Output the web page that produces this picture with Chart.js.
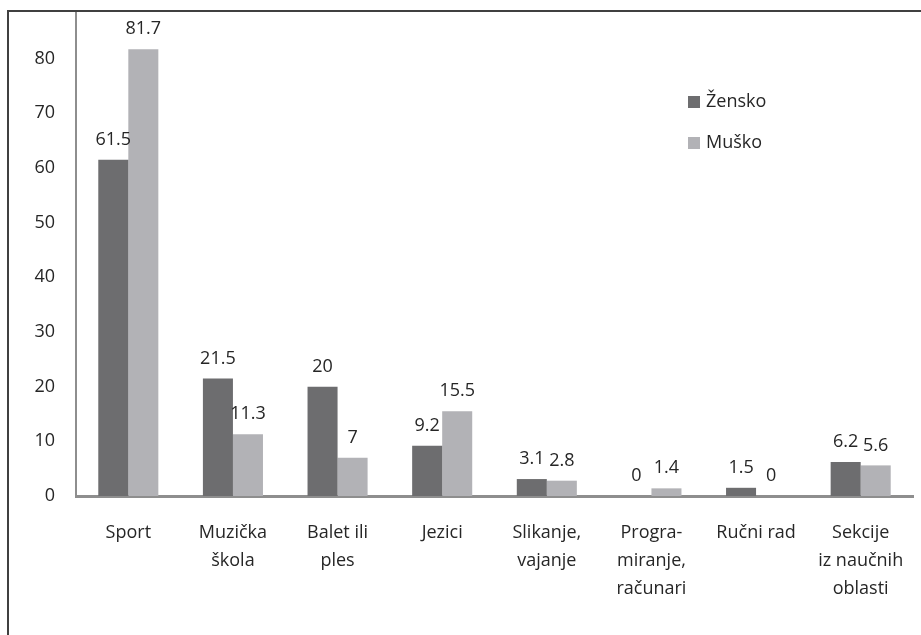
<!DOCTYPE html>
<html>
<head>
<meta charset="utf-8">
<script src="https://cdn.jsdelivr.net/npm/chart.js@4/dist/chart.umd.min.js"></script>
<style>
  html, body { margin: 0; padding: 0; background: #fff; }
  #wrap { width: 921px; height: 635px; position: relative; }
</style>
</head>
<body>
<div id="wrap"><canvas id="myBarChart"></canvas></div>
<script>
var categories = ["Sport", ["Muzička", "škola"], ["Balet ili", "ples"], "Jezici",
    ["Slikanje,", "vajanje"], ["Progra-", "miranje,", "računari"], "Ručni rad",
    ["Sekcije", "iz naučnih", "oblasti"]];
var zensko = [61.5, 21.5, 20, 9.2, 3.1, 0, 1.5, 6.2];
var musko = [81.7, 11.3, 7, 15.5, 2.8, 1.4, 0, 5.6];
var seriesNames = ["Žensko", "Muško"];
var yTicks = [0, 10, 20, 30, 40, 50, 60, 70, 80, 90];

var FONT = "'Open Sans', sans-serif";
var TEXT = '#262626';

// value labels above the bars
var valueLabels = {
    id: 'valueLabels',
    afterDatasetsDraw: function(chart) {
        var ctx = chart.ctx;
        ctx.save();
        ctx.font = '18px ' + FONT;
        ctx.fillStyle = TEXT;
        ctx.textAlign = 'center';
        ctx.textBaseline = 'middle';
        chart.data.datasets.forEach(function(ds, i) {
            chart.getDatasetMeta(i).data.forEach(function(bar, j) {
                ctx.fillText(String(ds.data[j]), bar.x, bar.y - 20);
            });
        });
        ctx.restore();
    }
};

// legend inside the plot + outer frame
var legendAndFrame = {
    id: 'legendAndFrame',
    afterDraw: function(chart) {
        var ctx = chart.ctx;
        ctx.save();
        ctx.font = '18px ' + FONT;
        ctx.textBaseline = 'middle';
        ctx.textAlign = 'left';
        chart.data.datasets.forEach(function(ds, i) {
            var y = 102 + i * 41;
            ctx.fillStyle = ds.backgroundColor;
            ctx.fillRect(688, y - 6, 12, 12);
            ctx.fillStyle = TEXT;
            ctx.fillText(ds.label, 706, y);
        });
        // crop like the source image
        ctx.fillStyle = '#fff';
        ctx.fillRect(0, 0, chart.width, 10);
        ctx.fillRect(0, 0, 7, chart.height);
        ctx.strokeStyle = '#404040';
        ctx.lineWidth = 2;
        ctx.beginPath();
        ctx.moveTo(8, chart.height);
        ctx.lineTo(8, 11);
        ctx.lineTo(chart.width, 11);
        ctx.stroke();
        ctx.restore();
    }
};

var ctx = document.getElementById("myBarChart");

new Chart(ctx, {
    type: 'bar',
    data: {
        labels: categories,
        datasets: [{
            label: seriesNames[0],
            data: zensko,
            backgroundColor: '#6d6d6f',
            categoryPercentage: 0.574,
            barPercentage: 1.0
        }, {
            label: seriesNames[1],
            data: musko,
            backgroundColor: '#b2b2b6',
            categoryPercentage: 0.574,
            barPercentage: 1.0
        }]
    },
    options: {
        responsive: true,
        maintainAspectRatio: false,
        animation: false,
        layout: { padding: { top: 4, right: 8, left: 0, bottom: 0 } },
        scales: {
            x: {
                grid: { display: false, drawTicks: false },
                border: { display: true, color: '#8e8e8e', width: 3 },
                ticks: {
                    color: TEXT,
                    font: { family: FONT, size: 18, lineHeight: 1.55 },
                    padding: 23,
                    maxRotation: 0,
                    autoSkip: false
                },
                afterFit: function(scale) {
                    scale.height = 139;
                    scale.paddingLeft = 0;
                    scale.paddingRight = 0;
                }
            },
            y: {
                min: 0,
                max: 90,
                afterBuildTicks: function(scale) {
                    scale.ticks = yTicks.map(function(v) { return { value: v }; });
                },
                grid: { display: false, drawTicks: false },
                border: { display: true, color: '#8e8e8e', width: 2 },
                ticks: {
                    color: TEXT,
                    font: { family: FONT, size: 18 },
                    padding: 21
                },
                afterFit: function(scale) {
                    scale.width = 76;
                    scale.paddingTop = 0;
                    scale.paddingBottom = 0;
                }
            }
        },
        plugins: {
            legend: { display: false },
            tooltip: { enabled: false }
        }
    },
    plugins: [valueLabels, legendAndFrame]
});
</script>
</body>
</html>
